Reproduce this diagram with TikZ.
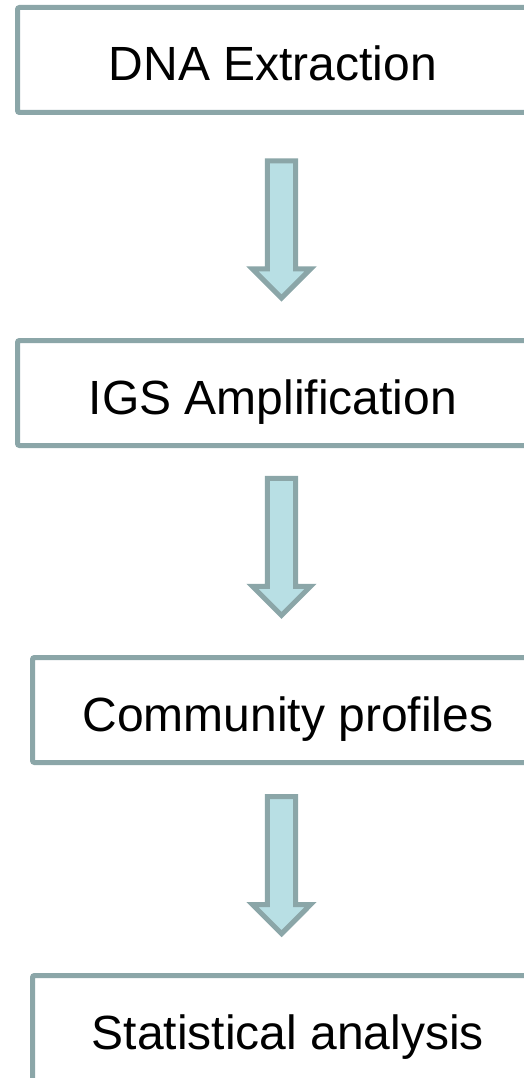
\documentclass[tikz,border=0pt]{standalone}
\usepackage{fontspec}
\setmainfont{Liberation Sans}
\usepackage{xcolor}
\usepackage{tikz}
\usetikzlibrary{shapes.arrows, positioning}
\definecolor{edgegray}{RGB}{139,166,168}
\definecolor{arrowfill}{RGB}{184,223,228}
\tikzset{
  stepbox/.style={
    rectangle, rounded corners=2pt,
    draw=edgegray, line width=5pt, fill=white,
    minimum width=511pt, minimum height=105pt,
    text height=42pt, text depth=0pt,
    outer sep=0pt, inner sep=0pt,
    font=\fontsize{48}{58}\selectfont
  },
  blockarrow/.style={
    single arrow, shape border rotate=270,
    draw=edgegray, fill=arrowfill, line width=5pt,
    inner sep=11.7pt, minimum height=137pt,
    single arrow head extend=14.8pt, single arrow tip angle=90,
    anchor=tail
  }
}

\begin{document}
\begin{tikzpicture}[x=1pt, y=-1pt, node distance=210pt]
  \useasboundingbox (0,0) rectangle (524,1078);

  \node[stepbox] (dna) at (273,60) {DNA Extraction};
  \node[stepbox, below=228pt of dna] (igs) {IGS Amplification};
  \node[stepbox, below=212pt of igs, xshift=15pt] (prof) {Community profiles};
  \node[stepbox, below=213pt of prof] (stat) {Statistical analysis};

  \node[blockarrow] (arr1) at (281.5,158.5) {};
  \node[blockarrow] (arr2) at (281.5,475.8) {};
  \node[blockarrow] (arr3) at (281.5,794.2) {};

\end{tikzpicture}
\end{document}
